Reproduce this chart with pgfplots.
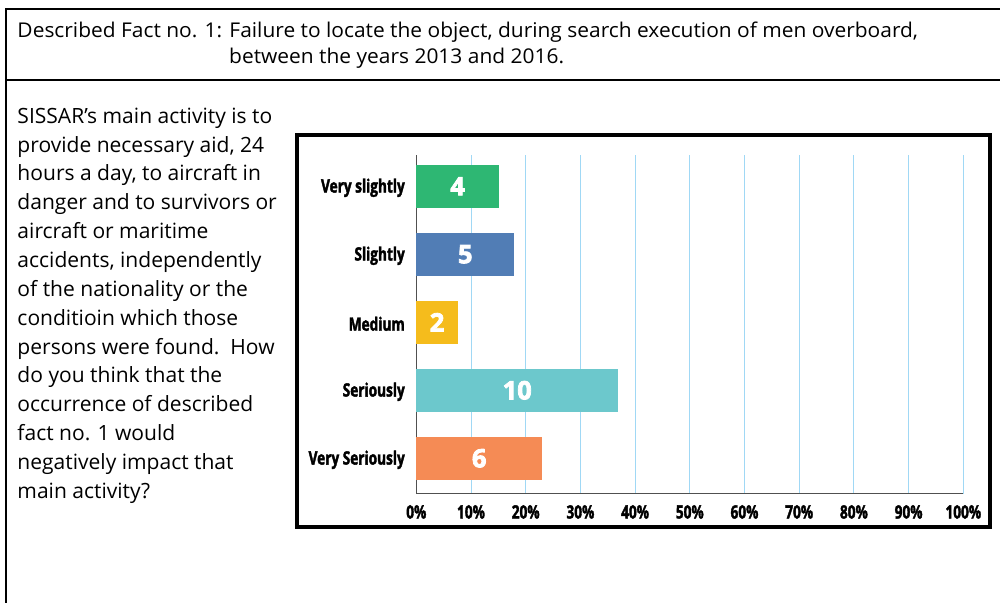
\documentclass[border=0pt]{standalone}
\usepackage{fontspec}
\setmainfont{Open Sans}
\newfontfamily\headfont{Open Sans}[FakeStretch=1.03]
\newfontfamily\condfont{Open Sans}[FakeStretch=0.74, BoldFeatures={FakeBold=2}]
\newfontfamily\valfont{Open Sans}[BoldFeatures={FakeBold=3}]
\usepackage{pgfplots}
\pgfplotsset{compat=1.18}
\definecolor{cGreen}{RGB}{46,183,115}
\definecolor{cBlue}{RGB}{81,125,181}
\definecolor{cYellow}{RGB}{245,188,28}
\definecolor{cTeal}{RGB}{108,200,204}
\definecolor{cOrange}{RGB}{245,139,85}
\definecolor{gridblue}{RGB}{160,216,245}
\definecolor{axgray}{RGB}{80,80,80}
\begin{document}
\begin{tikzpicture}[x=1bp,y=1bp]
\path[use as bounding box] (0,0) rectangle (1000,603);
% outer table frame
\draw[line width=2bp] (6,0) -- (6,594) -- (1000,594);
\draw[line width=2bp] (6,523) -- (1000,523);
% header
\node[anchor=base west, inner sep=0pt, font=\headfont\fontsize{20.4}{24}\selectfont] at (17.3,565.7)
  {Described Fact no. 1: Failure to locate the object, during search execution of men overboard,};
\node[anchor=base west, inner sep=0pt, font=\headfont\fontsize{20.4}{24}\selectfont] at (229,539.5)
  {between the years 2013 and 2016.};
% left text
\foreach \t [count=\i from 0] in {SISSAR’s main activity is to,provide necessary aid{,} 24,hours a day{,} to aircraft in,danger and to survivors or,aircraft or maritime,accidents{,} independently,of the nationality or the,conditioin which those,persons were found.\ \ How,do you think that the,occurrence of described,fact no. 1 would,negatively impact that,main activity?}
  \node[anchor=base west, inner sep=0pt, font=\fontsize{21.1}{26}\selectfont] at (17.3,{479.7-\i*28.85}) {\t};
% chart frame
\draw[line width=4bp] (296.5,75.5) rectangle (990,467.5);
\begin{axis}[
  at={(416.3bp,109bp)}, anchor=south west,
  scale only axis, width=547bp, height=339bp,
  xmin=0, xmax=100, ymin=-0.525, ymax=4.46,
  xbar, bar width=42.7bp,
  axis x line*=bottom, axis y line*=left,
  axis line style={draw=axgray, line width=1bp, -},
  xtick={0,10,...,100},
  xticklabels={0\%,10\%,20\%,30\%,40\%,50\%,60\%,70\%,80\%,90\%,100\%},
  ytick={0,1,2,3,4},
  yticklabels={Very Seriously,Seriously,Medium,Slightly,Very slightly},
  major tick length=0pt,
  xmajorgrids, grid style={draw=gridblue, line width=1bp},
  every tick label/.append style={inner sep=0pt, font=\condfont\bfseries\fontsize{18.5}{20}\selectfont},
  yticklabel style={anchor=east, xshift=-11.3bp, yshift=-1.5bp},
  xticklabel style={anchor=north, yshift=-11bp},
  clip=false,
  visualization depends on={x \as \rawx},
  every node near coord/.style={anchor=center, xshift={-\rawx*2.735bp}, text=white, font=\valfont\bfseries\fontsize{25.5}{28}\selectfont, inner sep=0pt},
]
\addplot[fill=cOrange, draw=none, bar shift=0pt, nodes near coords={6}] coordinates {(23.0,0)};
\addplot[fill=cTeal, draw=none, bar shift=0pt, nodes near coords={10}] coordinates {(36.9,1)};
\addplot[fill=cYellow, draw=none, bar shift=0pt, nodes near coords={2}] coordinates {(7.6,2)};
\addplot[fill=cBlue, draw=none, bar shift=0pt, nodes near coords={5}] coordinates {(17.9,3)};
\addplot[fill=cGreen, draw=none, bar shift=0pt, nodes near coords={4}] coordinates {(15.1,4)};
\end{axis}
\end{tikzpicture}
\end{document}
